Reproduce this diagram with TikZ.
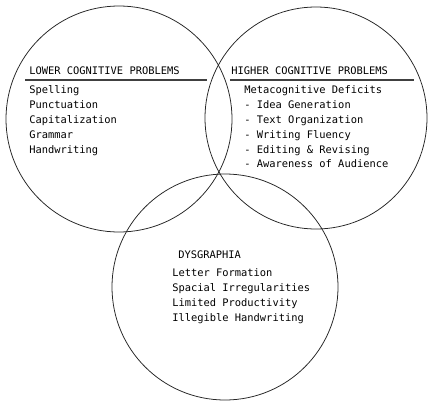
\documentclass[tikz,border=0pt]{standalone}
\usepackage{fontspec}
\setmonofont{DejaVu Sans Mono}
\usepackage{tikz}
\usetikzlibrary{positioning,calc}

\begin{document}
\begin{tikzpicture}[
    x=0.025cm, y=-0.025cm,
    ring/.style={draw=black!85, line width=0.55pt},
    heading/.style={anchor=base west, inner sep=0pt, font=\ttfamily\fontsize{7.4}{9}\selectfont},
    entry/.style={heading},
    rule/.style={draw=black!75, line width=0.8pt}
]
\useasboundingbox (0,0) rectangle (429,401);

% Circles
\draw[ring] (119,119) circle [radius=113];
\draw[ring] (316,118) circle [radius=111];
\draw[ring] (225,287) circle [radius=113];

% Circle 1: lower cognitive problems
\node[heading] (lower) at (29,74.5) {LOWER COGNITIVE PROBLEMS};
\coordinate (lowerL) at (25,80);
\coordinate (lowerR) at (207,80);
\draw[rule] (lowerL) -- (lowerR);
\node[entry] (spelling) at (29,93.5) {Spelling};
\node[entry] (punct) at (29,108.5) {Punctuation};
\node[entry] (capital) at (29,123.5) {Capitalization};
\node[entry] (grammar) at (29,138.5) {Grammar};
\node[entry] (handw) at (29,153) {Handwriting};

% Circle 2: higher cognitive problems
\node[heading] (higher) at (231,74.5) {HIGHER COGNITIVE PROBLEMS};
\coordinate (higherL) at (230,80);
\coordinate (higherR) at (414,80);
\draw[rule] (higherL) -- (higherR);
\node[entry] (meta) at (244,93.5) {Metacognitive Deficits};
\node[entry] (idea) at (244,108.5) {- Idea Generation};
\node[entry] (textorg) at (244,123.5) {- Text Organization};
\node[entry] (fluency) at (244,138.5) {- Writing Fluency};
\node[entry] (editing) at (244,153.5) {- Editing \& Revising};
\node[entry] (audience) at (244,167.5) {- Awareness of Audience};

% Circle 3: dysgraphia
\node[heading] (dysg) at (178,258.5) {DYSGRAPHIA};
\node[entry] (letter) at (172,276.5) {Letter Formation};
\node[entry] (spacial) at (172,291.5) {Spacial Irregularities};
\node[entry] (limited) at (172,306.5) {Limited Productivity};
\node[entry] (illeg) at (172,321.5) {Illegible Handwriting};

\end{tikzpicture}
\end{document}
